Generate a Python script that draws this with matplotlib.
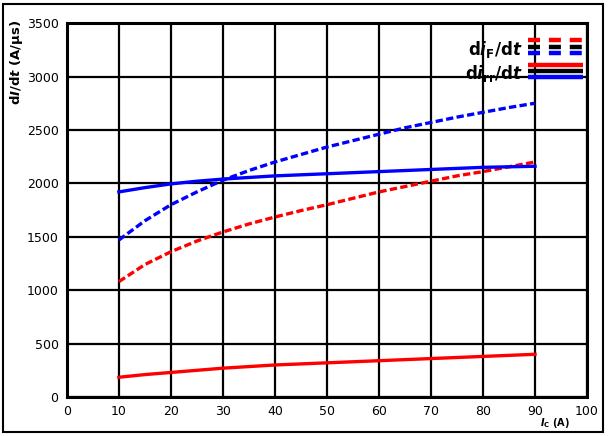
import matplotlib.pyplot as plt
from matplotlib.lines import Line2D
from matplotlib.patches import Rectangle

# collector current (A)
ic = [10, 15, 20, 25, 30, 35, 40, 45, 50, 55, 60, 65, 70, 75, 80, 85, 90]

# dashed curves: diF/dt
dif_red = [1080, 1240, 1360, 1460, 1545, 1620, 1685, 1745, 1800,
           1860, 1920, 1970, 2020, 2070, 2110, 2155, 2200]
dif_blue = [1470, 1650, 1800, 1920, 2030, 2120, 2200, 2270, 2340,
            2400, 2460, 2520, 2570, 2620, 2665, 2710, 2750]
# solid curves: dirr/dt
dirr_red = [185, 210, 230, 250, 270, 285, 300, 310, 320,
            330, 340, 350, 360, 370, 380, 390, 400]
dirr_blue = [1920, 1960, 1995, 2020, 2040, 2055, 2070, 2080, 2090,
             2100, 2110, 2120, 2130, 2140, 2150, 2155, 2160]

legend_colors = ["red", "black", "blue"]


class StackHandler:
    """draws three coloured lines stacked on top of each other"""
    def __init__(self, colors, ls):
        self.colors = colors
        self.ls = ls

    def legend_artist(self, legend, orig_handle, fontsize, handlebox):
        x0, y0 = handlebox.xdescent, handlebox.ydescent
        w, h = handlebox.width, handlebox.height
        for i, c in enumerate(self.colors):
            y = y0 + h * (0.95 - i * 0.45)
            ln = Line2D([x0, x0 + w], [y, y], color=c, lw=3.2, ls=self.ls,
                        dashes=(2.7, 2.0) if self.ls == "--" else (None, None),
                        solid_capstyle="butt", dash_capstyle="butt")
            handlebox.add_artist(ln)
        return ln


fig = plt.figure(figsize=(6.08, 4.36), dpi=100)
ax = fig.add_axes([0.110, 0.0894, 0.8555, 0.8576])

fig.patches.append(Rectangle((3 / 608, 4 / 436), 600 / 608, 428 / 436,
                             transform=fig.transFigure, fill=False,
                             edgecolor="black", lw=1.5))

dash = (2.2, 1.0)
ax.plot(ic, dif_red, color="red", lw=2.4, ls="--", dashes=dash)
ax.plot(ic, dif_blue, color="blue", lw=2.4, ls="--", dashes=dash)
ax.plot(ic, dirr_red, color="red", lw=2.4)
ax.plot(ic, dirr_blue, color="blue", lw=2.4)

ax.set_xlim(0, 100)
ax.set_ylim(0, 3500)
ax.set_xticks(range(0, 101, 10))
ax.set_yticks(range(0, 3501, 500))
ax.grid(True, color="black", lw=1.6)
ax.set_axisbelow(True)
ax.tick_params(length=0, labelsize=9, pad=6)
for s in ax.spines.values():
    s.set_linewidth(2.2)

h1 = Line2D([], [])
h2 = Line2D([], [])
ax.legend([h1, h2],
          [r"d$\mathbfit{i}_{\mathbf{F}}$/d$\mathbfit{t}$",
           r"d$\mathbfit{i}_{\mathbf{rr}}$/d$\mathbfit{t}$"],
          handler_map={h1: StackHandler(legend_colors, "--"),
                       h2: StackHandler(legend_colors, "-")},
          loc="upper right", bbox_to_anchor=(1.011, 0.985), frameon=False,
          markerfirst=False, handlelength=3.3, handleheight=0.9,
          handletextpad=0.3, labelspacing=0.2, borderaxespad=0.2,
          prop={"weight": "bold", "size": 12})

ax.set_ylabel(r"d$\mathbfit{I}$/d$\mathbfit{t}$ (A/µs)", fontsize=9.5,
              fontweight="bold")
ax.yaxis.set_label_coords(-0.08, 0.895)
fig.text(555 / 608, 1 - 423 / 436, r"$\mathbfit{I}_{\mathbf{C}}$ (A)",
         fontsize=7, fontweight="bold", ha="center", va="center")

fig.savefig("out.png", dpi=100)
